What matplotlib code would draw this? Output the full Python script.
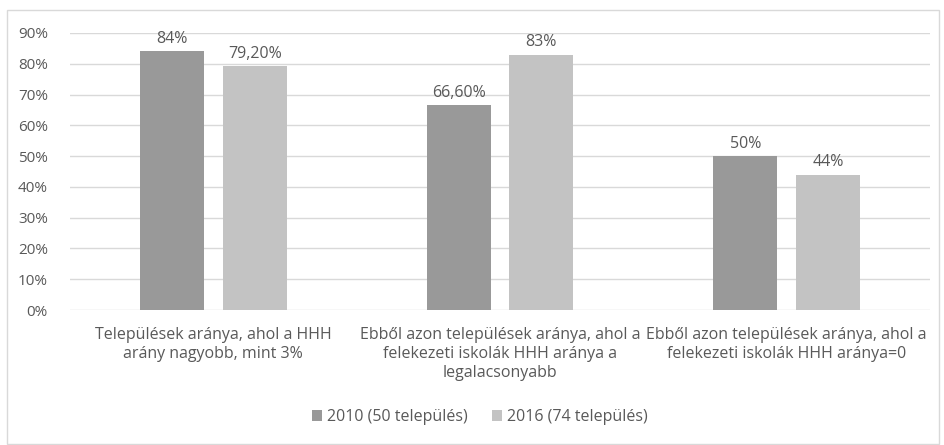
import matplotlib
matplotlib.use("Agg")
import matplotlib.pyplot as plt
import numpy as np
from matplotlib.patches import Rectangle

categories = [
    "Települések aránya, ahol a HHH\narány nagyobb, mint 3%",
    "Ebből azon települések aránya, ahol a\nfelekezeti iskolák HHH aránya a\nlegalacsonyabb",
    "Ebből azon települések aránya, ahol a\nfelekezeti iskolák HHH aránya=0",
]
series_names = ["2010 (50 település)", "2016 (74 település)"]
values_2010 = [0.84, 0.666, 0.50]
values_2016 = [0.792, 0.83, 0.44]
labels_2010 = ["84%", "66,60%", "50%"]
labels_2016 = ["79,20%", "83%", "44%"]
yticks = [0, 0.1, 0.2, 0.3, 0.4, 0.5, 0.6, 0.7, 0.8, 0.9]

plt.rcParams['font.family'] = ['Open Sans', 'DejaVu Sans']
txt = '#595959'

fig = plt.figure(figsize=(9.44, 4.45), dpi=100)
ax = fig.add_axes([70/944, 1-310/445, 860/944, 277/445])

fig.patches.append(Rectangle((7/944, 1/445), 932/944, 434/445, transform=fig.transFigure,
                             fill=False, edgecolor='#d9d9d9', lw=1))

x = np.arange(len(categories))
w = 0.223
off = (w + 0.066) / 2
b1 = ax.bar(x - off, values_2010, w, color='#999999', label=series_names[0], zorder=3)
b2 = ax.bar(x + off, values_2016, w, color='#c3c3c3', label=series_names[1], zorder=3)
for bars, labs in ((b1, labels_2010), (b2, labels_2016)):
    for r, l in zip(bars, labs):
        ax.annotate(l, (r.get_x() + r.get_width()/2, r.get_height()), xytext=(0, 3),
                    textcoords='offset points', ha='center', va='bottom', fontsize=11.5, color=txt)

ax.set_xlim(-0.5, 2.5)
ax.set_ylim(0, 0.9)
ax.set_yticks(yticks)
ax.set_yticklabels([f"{int(round(t*100))}%" for t in yticks])
ax.set_xticks(x)
ax.set_xticklabels(categories, fontsize=11.5, linespacing=1.25)
ax.tick_params(axis='both', length=0, colors=txt)
ax.tick_params(axis='y', pad=16, labelsize=11)
ax.tick_params(axis='x', pad=12)
ax.grid(axis='y', color='#d9d9d9', lw=1, zorder=0)
for s in ax.spines.values():
    s.set_visible(False)

leg = fig.legend(loc='center', bbox_to_anchor=(480/944, 1-417/445), ncol=2, frameon=False,
                 fontsize=11.5, handlelength=0.65, handleheight=0.65, handletextpad=0.3, columnspacing=1.5)
for t in leg.get_texts():
    t.set_color(txt)

fig.savefig("out.png", dpi=100)
